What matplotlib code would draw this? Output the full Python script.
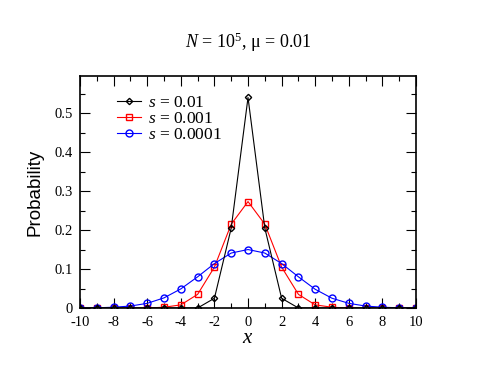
import matplotlib
matplotlib.use("Agg")
import matplotlib.pyplot as plt
from matplotlib.ticker import MultipleLocator

plt.rcParams["font.family"] = "Liberation Serif"
plt.rcParams["mathtext.fontset"] = "custom"
plt.rcParams["mathtext.rm"] = "Liberation Serif"
plt.rcParams["mathtext.it"] = "Liberation Serif:italic"
plt.rcParams["axes.unicode_minus"] = False

x = list(range(-10, 11))
p_s01 = [0, 0, 0, 0, 0, 0, 0, 0, 0.025, 0.205, 0.54, 0.205, 0.025, 0, 0, 0, 0, 0, 0, 0, 0]
p_s001 = [0, 0, 0, 0, 0, 0.002, 0.008, 0.035, 0.105, 0.215, 0.273, 0.215, 0.105, 0.035, 0.008, 0.002,
          0, 0, 0, 0, 0]
p_s0001 = [0, 0.0005, 0.002, 0.005, 0.012, 0.026, 0.049, 0.08, 0.114, 0.141, 0.15, 0.141, 0.114, 0.08,
           0.048, 0.025, 0.012, 0.005, 0.002, 0.0005, 0]
labels = ["$s$ = 0.01", "$s$ = 0.001", "$s$ = 0.0001"]

fig = plt.figure(figsize=(4.8, 3.71), dpi=100)
ax = fig.add_axes([0.1667, 0.1698, 0.70, 0.6252])

ax.plot(x, p_s01, "-D", color="black", lw=0.8, ms=3.2, mfc="none", mew=1.0, label=labels[0], zorder=3)
ax.plot(x, p_s001, "-s", color="red", lw=0.8, ms=4, mfc="none", mew=1.0, label=labels[1])
ax.plot(x, p_s0001, "-o", color="blue", lw=0.8, ms=5, mfc="none", mew=1.0, label=labels[2])

ax.set_xlim(-10, 10)
ax.set_ylim(0, 0.595)
ax.xaxis.set_major_locator(MultipleLocator(2))
ax.xaxis.set_minor_locator(MultipleLocator(1))
ax.yaxis.set_major_locator(MultipleLocator(0.1))
ax.yaxis.set_minor_locator(MultipleLocator(0.05))
ax.yaxis.set_major_formatter(lambda v, pos: "0" if v == 0 else f"{v:g}")
ax.tick_params(which="both", direction="in", top=True, right=True, labelsize=10.5, width=0.8)
ax.tick_params(which="major", length=7)
ax.tick_params(which="minor", length=3.5)
ax.tick_params(axis="x", pad=6)
ax.tick_params(axis="y", pad=5)
for sp in ax.spines.values():
    sp.set_linewidth(1.2)

ax.set_xlabel("$x$", fontsize=15, labelpad=0)
ax.set_ylabel("Probability", fontsize=13.5, family="Liberation Sans", labelpad=8)
ax.set_title("$N$ = 10$^5$, μ = 0.01", fontsize=13, pad=20)

ax.legend(loc="upper left", bbox_to_anchor=(0.09, 0.95), frameon=False, fontsize=12.5,
          handlelength=1.35, handletextpad=0.45, labelspacing=0.0, borderaxespad=0)

fig.savefig("out.png", dpi=100)
